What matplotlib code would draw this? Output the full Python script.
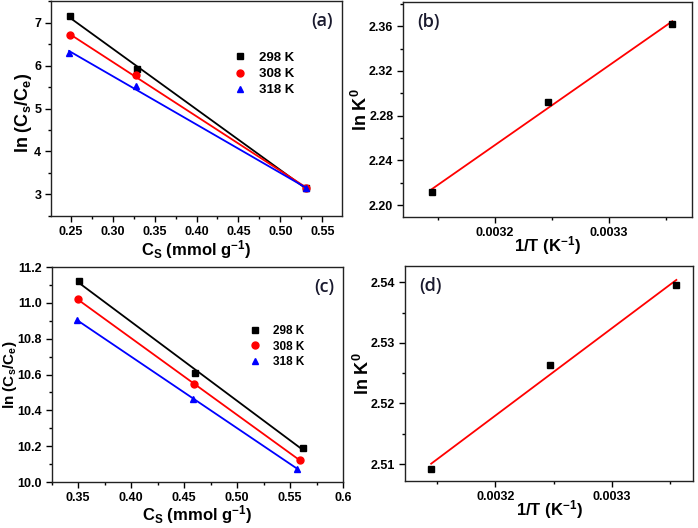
import numpy as np
import matplotlib
matplotlib.use('Agg')
import matplotlib.pyplot as plt
from matplotlib.ticker import MultipleLocator, FixedLocator, FixedFormatter, FormatStrFormatter

plt.rcParams['font.family'] = ['Liberation Sans', 'DejaVu Sans']
plt.rcParams['font.weight'] = 'bold'
plt.rcParams['mathtext.fontset'] = 'custom'
plt.rcParams['mathtext.rm'] = 'Liberation Sans:bold'
plt.rcParams['mathtext.bf'] = 'Liberation Sans:bold'
plt.rcParams['mathtext.it'] = 'Liberation Sans:bold'
plt.rcParams['mathtext.default'] = 'bf'

temps = ['298 K', '308 K', '318 K']
colors = ['black', 'red', 'blue']
markers = ['s', 'o', '^']

# panel (a)
cs_a = [[0.249, 0.329, 0.530], [0.249, 0.328, 0.530], [0.248, 0.328, 0.530]]
ln_a = [[7.15, 5.93, 3.16], [6.70, 5.77, 3.16], [6.28, 5.52, 3.14]]

# panel (c)
cs_c = [[0.351, 0.460, 0.562], [0.350, 0.459, 0.559], [0.349, 0.458, 0.557]]
ln_c = [[11.12, 10.61, 10.19], [11.02, 10.545, 10.125], [10.905, 10.465, 10.075]]

# panels (b) and (d)
inv_t = [1 / 318, 1 / 308, 1 / 298]
lnk_b = [2.212, 2.292, 2.362]
lnk_d = [2.5092, 2.5264, 2.5396]

fig = plt.figure(figsize=(6.98, 5.28), dpi=100)
ax_a = fig.add_axes([0.0731, 0.591, 0.4169, 0.407])
ax_b = fig.add_axes([0.5774, 0.589, 0.414, 0.407])
ax_c = fig.add_axes([0.074, 0.0871, 0.4174, 0.4072])
ax_d = fig.add_axes([0.580, 0.089, 0.4128, 0.4072])


def style(ax):
    for s in ax.spines.values():
        s.set_linewidth(1.0)
        s.set_color('#222222')
    ax.tick_params(which='both', direction='out', top=False, right=False,
                   labelsize=9, width=1.0, pad=3)
    ax.tick_params(which='major', length=4)
    ax.tick_params(which='minor', length=2.5)
    for lab in ax.get_xticklabels() + ax.get_yticklabels():
        lab.set_fontweight('bold')


def iso_panel(ax, xs, ys, label):
    for x, y, c, m, t in zip(xs, ys, colors, markers, temps):
        p = np.polyfit(x, y, 1)
        xx = np.array([min(x), max(x)])
        ax.plot(xx, np.polyval(p, xx), color=c, lw=1.3)
        ax.plot(x, y, ls='none', marker=m, color=c, ms=5, label=t)
    ax.text(0.97, 0.95, label, transform=ax.transAxes, ha='right', va='top',
            fontsize=13, fontweight='semibold', family='Open Sans', color='#1a1a2e')


def vh_panel(ax, x, y, label):
    p = np.polyfit(x, y, 1)
    xx = np.array([min(x), max(x)])
    ax.plot(xx, np.polyval(p, xx), color='red', lw=1.3)
    ax.plot(x, y, ls='none', marker='s', color='black', ms=4.5)
    ax.text(0.05, 0.95, label, transform=ax.transAxes, ha='left', va='top',
            fontsize=13, fontweight='semibold', family='Open Sans', color='#1a1a2e')


cs_xlabel = 'C$_\\mathregular{S}$ (mmol g$^\\mathregular{-1}$)'
cs_ylabel = 'ln (C$_\\mathregular{s}$/C$_\\mathregular{e}$)'
t_xlabel = '1/T (K$^\\mathregular{-1}$)'
k_ylabel = 'ln K$^\\mathregular{0}$'

# (a)
iso_panel(ax_a, cs_a, ln_a, '(a)')
ax_a.set_xlim(0.2265, 0.5735)
ax_a.set_ylim(2.5, 7.5)
ax_a.xaxis.set_major_locator(MultipleLocator(0.05))
ax_a.xaxis.set_minor_locator(MultipleLocator(0.025))
ax_a.yaxis.set_major_locator(MultipleLocator(1))
ax_a.yaxis.set_minor_locator(MultipleLocator(0.5))
ax_a.xaxis.set_major_formatter(FormatStrFormatter('%.2f'))
ax_a.set_xlabel(cs_xlabel, fontsize=12, fontweight='bold')
ax_a.set_ylabel(cs_ylabel, fontsize=13, fontweight='bold')
ax_a.xaxis.set_label_coords(0.5, -0.105)
ax_a.yaxis.set_label_coords(-0.058, 0.48)
ax_a.legend(loc='center left', bbox_to_anchor=(0.61, 0.66), frameon=False,
            handlelength=0.8, handletextpad=1.0, labelspacing=0.3, borderpad=0,
            prop={'weight': 'bold', 'size': 9.5})

# (b)
vh_panel(ax_b, inv_t, lnk_b, '(b)')
ax_b.set_xlim(0.003119, 0.003373)
ax_b.set_ylim(2.1894, 2.3815)
ax_b.xaxis.set_major_locator(MultipleLocator(0.0001))
ax_b.xaxis.set_minor_locator(MultipleLocator(0.00005))
ax_b.xaxis.set_major_formatter(FormatStrFormatter('%.4f'))
ax_b.yaxis.set_major_locator(MultipleLocator(0.04))
ax_b.yaxis.set_minor_locator(MultipleLocator(0.02))
ax_b.yaxis.set_major_formatter(FormatStrFormatter('%.2f'))
ax_b.set_xlabel(t_xlabel, fontsize=12, fontweight='bold')
ax_b.set_ylabel(k_ylabel, fontsize=13, fontweight='bold')
ax_b.xaxis.set_label_coords(0.5, -0.078)
ax_b.yaxis.set_label_coords(-0.112, 0.5)

# (c)
iso_panel(ax_c, cs_c, ln_c, '(c)')
ax_c.set_xlim(0.325, 0.6)
ax_c.set_ylim(10.0, 11.2)
xt = [0.35, 0.40, 0.45, 0.50, 0.55, 0.60]
ax_c.xaxis.set_major_locator(FixedLocator(xt))
ax_c.xaxis.set_major_formatter(FixedFormatter(['0.35', '0.40', '0.45', '0.50', '0.55', '0.6']))
ax_c.xaxis.set_minor_locator(MultipleLocator(0.025))
ax_c.yaxis.set_major_locator(MultipleLocator(0.2))
ax_c.yaxis.set_minor_locator(MultipleLocator(0.1))
ax_c.yaxis.set_major_formatter(FormatStrFormatter('%.1f'))
ax_c.set_xlabel(cs_xlabel, fontsize=12, fontweight='bold')
ax_c.set_ylabel(cs_ylabel, fontsize=11, fontweight='bold')
ax_c.xaxis.set_label_coords(0.5, -0.1)
ax_c.yaxis.set_label_coords(-0.113, 0.5)
ax_c.legend(loc='center left', bbox_to_anchor=(0.66, 0.63), frameon=False,
            handlelength=0.8, handletextpad=1.2, labelspacing=0.3, borderpad=0,
            prop={'weight': 'bold', 'size': 8.5})

# (d)
vh_panel(ax_d, inv_t, lnk_d, '(d)')
ax_d.set_xlim(0.003122, 0.00337)
ax_d.set_ylim(2.5072, 2.5427)
ax_d.xaxis.set_major_locator(MultipleLocator(0.0001))
ax_d.xaxis.set_minor_locator(MultipleLocator(0.00005))
ax_d.xaxis.set_major_formatter(FormatStrFormatter('%.4f'))
ax_d.yaxis.set_major_locator(MultipleLocator(0.01))
ax_d.yaxis.set_minor_locator(MultipleLocator(0.005))
ax_d.yaxis.set_major_formatter(FormatStrFormatter('%.2f'))
ax_d.set_xlabel(t_xlabel, fontsize=12, fontweight='bold')
ax_d.set_ylabel(k_ylabel, fontsize=13, fontweight='bold')
ax_d.xaxis.set_label_coords(0.5, -0.08)
ax_d.yaxis.set_label_coords(-0.11, 0.5)

for ax in (ax_a, ax_b, ax_c, ax_d):
    style(ax)

fig.savefig('out.png', dpi=100)
